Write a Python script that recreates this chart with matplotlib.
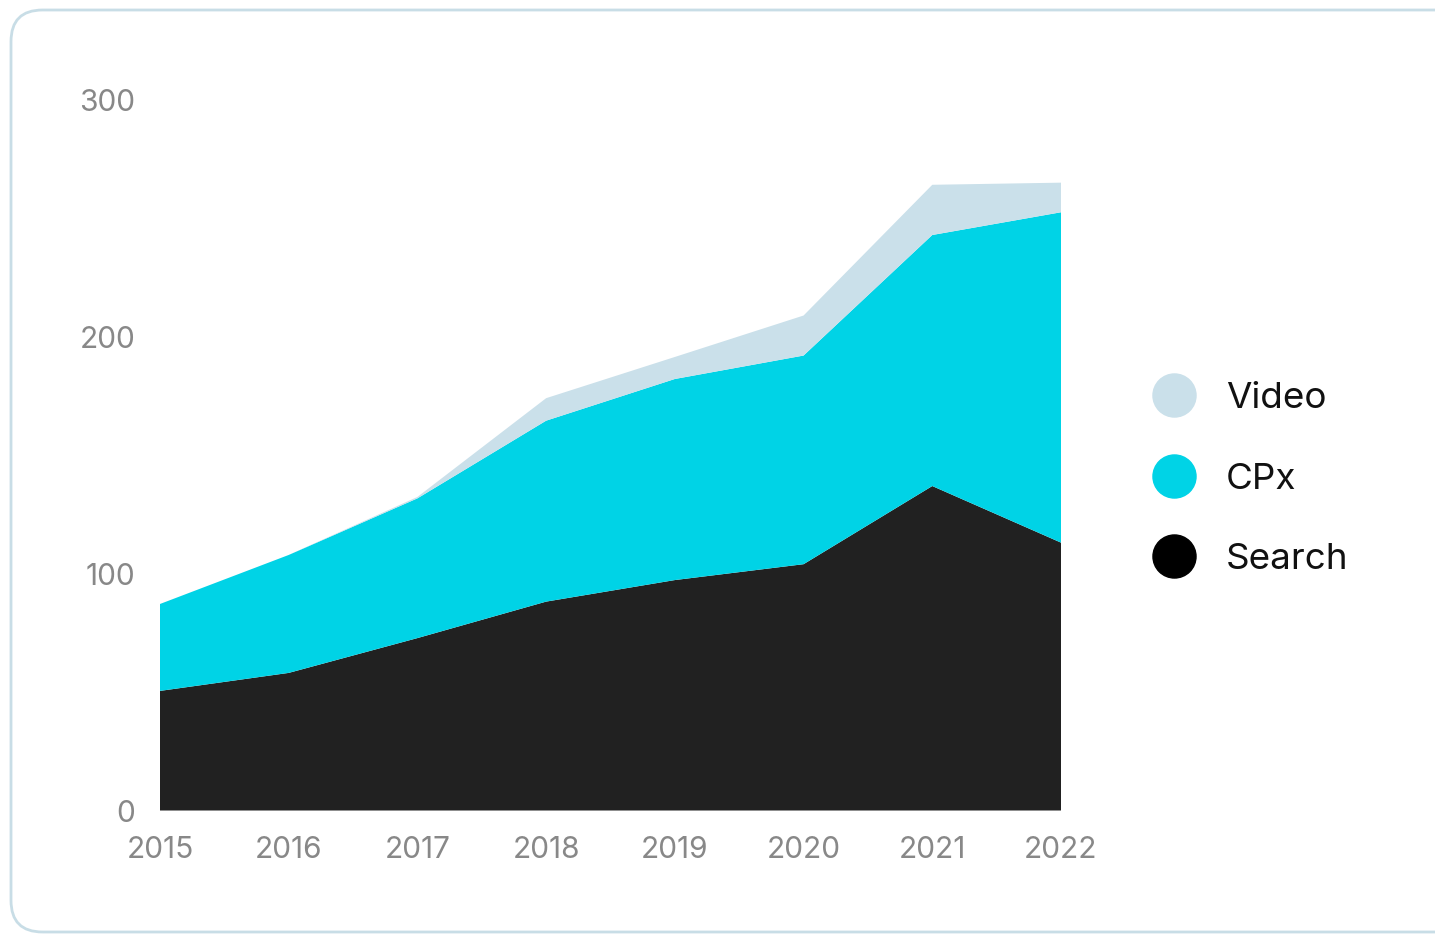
import matplotlib
matplotlib.use('Agg')
import matplotlib.pyplot as plt
from matplotlib.lines import Line2D
from matplotlib.patches import FancyBboxPatch

plt.rcParams['font.family'] = ['Inter', 'DejaVu Sans']

# data
years = [2015, 2016, 2017, 2018, 2019, 2020, 2021, 2022]
search = [50.5, 58.1, 72.8, 88.2, 97.3, 104.0, 137.0, 113.1]
cpx = [36.7, 49.8, 59.0, 76.4, 84.9, 88.1, 106.0, 139.5]
video = [0.0, 0.0, 0.6, 9.5, 9.3, 16.9, 21.2, 12.5]
area_colors = ['#212121', '#00d3e6', '#cae0ea']
legend_names = ['Video', 'CPx', 'Search']
legend_colors = ['#cae0ea', '#00d3e6', '#000000']
yticks = [0, 100, 200, 300]

W, H = 1435, 934
fig = plt.figure(figsize=(W / 100, H / 100), dpi=100)

# rounded card border
card = FancyBboxPatch((11 / W, 2 / H), 1.2, (H - 12) / H,
                      boxstyle='round,pad=0,rounding_size=0.022',
                      transform=fig.transFigure, facecolor='none',
                      edgecolor='#c8dde6', linewidth=2, mutation_aspect=W / H)
fig.add_artist(card)

ax = fig.add_axes([160 / W, (H - 810.5) / H, (1061 - 160) / W, (810.5 - 100) / H])
ax.set_facecolor('none')
ax.stackplot(years, search, cpx, video, colors=area_colors, linewidth=0)

ax.set_xlim(years[0], years[-1])
ax.set_ylim(0, 300)
ax.set_xticks(years)
ax.set_yticks(yticks)
for s in ax.spines.values():
    s.set_visible(False)
ax.tick_params(length=0, labelsize=21.5, colors='#888888')
ax.tick_params(axis='y', pad=18)
ax.tick_params(axis='x', pad=18.5)

handles = [Line2D([], [], marker='o', linestyle='none', markersize=31,
                  markerfacecolor=c, markeredgecolor=c) for c in legend_colors]
fig.legend(handles, legend_names, loc='center left',
           bbox_to_anchor=(1104 / W, (H - 479) / H), frameon=False,
           fontsize=26.5, labelspacing=1.29, handletextpad=0.42, labelcolor='#111111')

plt.savefig('out.png', dpi=100)
